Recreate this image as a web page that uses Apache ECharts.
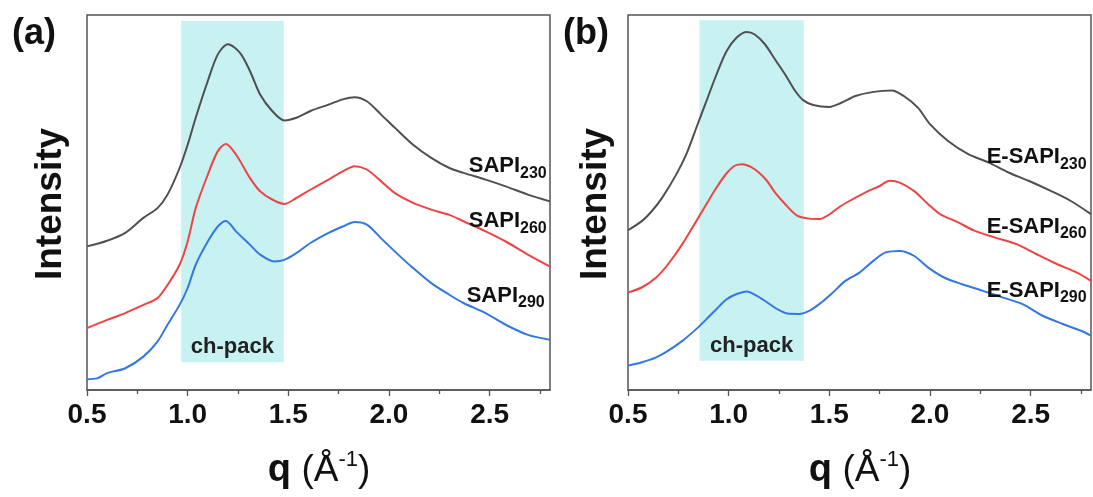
<!DOCTYPE html>
<html>
<head>
<meta charset="utf-8">
<script src="https://cdn.jsdelivr.net/npm/echarts@6/dist/echarts.min.js"></script>
<style>
  html, body { margin: 0; padding: 0; background: #fff; }
  #chart { width: 1093px; height: 497px; }
</style>
</head>
<body>
<div id="chart"></div>
<script>
// tick values (q, 1/Å)
const xTicks = [0.5, 1.0, 1.5, 2.0, 2.5];
const xMinorTicks = [0.75, 1.25, 1.75, 2.25, 2.75];

// panel (a)
const qA230 = [0.50,0.60,0.69,0.78,0.85,0.90,0.96,1.00,1.04,1.10,1.15,1.20,1.26,1.31,1.36,1.42,1.48,1.54,1.61,1.70,1.77,1.83,1.89,1.96,2.03,2.12,2.21,2.30,2.37,2.48,2.58,2.69,2.80];
const iA230 = [38.3,39.8,41.9,45.9,48.5,52.1,59.2,65.4,72.6,82.4,89.5,92.2,89.9,85.0,78.8,74.4,71.9,72.6,74.4,76.1,77.5,78.1,77.0,73.5,69.9,65.4,61.9,59.2,57.9,56.1,54.3,52.1,50.3];
const qA260 = [0.50,0.60,0.69,0.78,0.85,0.90,0.96,1.00,1.04,1.10,1.15,1.19,1.24,1.31,1.36,1.42,1.48,1.54,1.61,1.70,1.77,1.83,1.89,1.96,2.03,2.12,2.21,2.30,2.37,2.48,2.58,2.69,2.80];
const iA260 = [16.5,18.7,20.5,22.7,24.5,28.0,33.4,39.6,48.5,57.4,63.7,65.6,62.8,56.5,53.0,50.8,49.6,51.2,53.4,56.1,58.3,59.7,58.8,55.7,52.5,49.9,48.1,46.7,45.0,42.3,39.6,36.1,32.9];
const qA290 = [0.50,0.55,0.60,0.69,0.78,0.85,0.90,0.96,1.00,1.04,1.10,1.15,1.19,1.24,1.31,1.36,1.43,1.48,1.54,1.61,1.70,1.77,1.83,1.89,1.96,2.03,2.12,2.21,2.30,2.37,2.48,2.58,2.69,2.80];
const iA290 = [2.9,3.1,4.5,5.8,8.9,12.9,17.4,22.7,27.2,33.4,39.6,43.6,45.1,42.3,38.7,36.1,34.3,34.7,36.5,39.2,41.9,43.6,44.8,44.1,40.5,36.9,32.5,28.5,25.4,23.2,20.5,17.4,14.7,13.4];

// panel (b)
const qB230 = [0.50,0.57,0.62,0.67,0.74,0.79,0.84,0.89,0.94,0.99,1.04,1.09,1.13,1.18,1.23,1.28,1.33,1.37,1.42,1.50,1.56,1.63,1.72,1.81,1.87,1.94,2.00,2.09,2.19,2.29,2.39,2.49,2.60,2.70,2.80];
const iB230 = [42.6,45.1,47.8,51.3,57.5,62.9,70.0,77.1,84.2,90.4,94.0,95.5,94.8,92.2,88.2,84.2,79.8,77.3,76.0,75.5,76.6,78.4,79.5,79.9,78.4,75.3,70.9,66.4,62.9,60.7,58.0,55.8,53.1,50.4,46.9];
const qB260 = [0.50,0.57,0.64,0.70,0.77,0.84,0.89,0.94,0.99,1.03,1.07,1.11,1.15,1.19,1.23,1.28,1.34,1.40,1.45,1.50,1.55,1.60,1.68,1.75,1.80,1.85,1.92,1.99,2.05,2.14,2.22,2.32,2.43,2.53,2.63,2.73,2.80];
const iB260 = [26.0,27.4,30.0,33.6,38.9,45.1,49.6,54.0,57.8,59.8,60.2,59.5,58.0,55.8,52.7,49.6,46.5,45.7,45.6,46.8,48.8,50.4,52.7,54.4,55.8,55.3,53.1,49.6,46.9,44.7,42.5,40.7,38.9,36.2,33.6,31.3,29.1];
const qB290 = [0.50,0.57,0.64,0.70,0.77,0.84,0.89,0.94,0.99,1.04,1.09,1.14,1.19,1.24,1.29,1.35,1.40,1.45,1.51,1.58,1.65,1.72,1.78,1.85,1.92,1.99,2.07,2.16,2.26,2.36,2.46,2.56,2.66,2.75,2.80];
const iB290 = [6.5,7.4,8.7,10.5,13.1,16.3,18.9,21.6,24.2,25.6,26.3,25.1,23.4,21.6,20.4,20.3,21.1,22.9,25.6,29.1,31.3,34.5,36.7,37.1,35.8,32.7,30.0,28.2,26.5,24.7,22.9,19.8,17.6,15.8,14.5];

// shaded ch-pack ranges [qStart, qEnd, iLow, iHigh]
const bandA = [0.968, 1.477, 7.4, 98.4];
const bandB = [0.855, 1.373, 7.8, 98.6];

// curve labels: [name, subscript, q, intensity]
const labelsA = [['SAPI', '230', 2.59, 59.7], ['SAPI', '260', 2.59, 45.0], ['SAPI', '290', 2.58, 25.2]];
const labelsB = [['E-SAPI', '230', 2.53, 62.1], ['E-SAPI', '260', 2.53, 43.5], ['E-SAPI', '290', 2.53, 26.5]];

const FONT = '"Liberation Sans", Arial, Helvetica, sans-serif';
const colors = { c230: '#4f4f4f', c260: '#ee4444', c290: '#3377e0' };

const zip = (q, v) => q.map((x, i) => [x, v[i]]);

const chart = echarts.init(document.getElementById('chart'), null, { renderer: 'canvas' });

const grids = [
  { left: 87, top: 15, width: 463, height: 375 },
  { left: 628, top: 15, width: 463, height: 375 }
];

function mainX(gi) {
  return {
    type: 'value', gridIndex: gi, position: 'bottom', min: 0.5, max: 2.8, interval: 0.5,
    axisLine: { show: true, onZero: false, lineStyle: { color: '#555', width: 1.5 } },
    axisTick: { show: true, inside: false, length: 6, customValues: xTicks, lineStyle: { color: '#555', width: 1.3 } },
    axisLabel: {
      show: true, customValues: xTicks, margin: 11, color: '#111', fontSize: 28, fontWeight: 'bold',
      fontFamily: FONT, formatter: v => v.toFixed(1)
    },
    splitLine: { show: false }
  };
}
function minorX(gi) {
  return {
    type: 'value', gridIndex: gi, position: 'bottom', min: 0.5, max: 2.8, interval: 0.25,
    axisLine: { show: false },
    axisTick: { show: true, length: 4, customValues: xMinorTicks, lineStyle: { color: '#555', width: 1.3 } },
    axisLabel: { show: false },
    splitLine: { show: false }
  };
}
function yAx(gi) {
  return {
    type: 'value', gridIndex: gi, min: 0, max: 100,
    axisLine: { show: false }, axisTick: { show: false }, axisLabel: { show: false }, splitLine: { show: false }
  };
}

function curveLabel(l) {
  return {
    coord: [l[2], l[3]],
    label: { formatter: '{m|' + l[0] + '}{s|' + l[1] + '}' }
  };
}

const richLab = {
  m: { fontSize: 22, fontWeight: 'bold', fontFamily: FONT, color: '#111', lineHeight: 23 },
  s: { fontSize: 16, fontWeight: 'bold', fontFamily: FONT, color: '#111', lineHeight: 16, padding: [14, 0, 0, 0] }
};

function line(name, data, color, gi, extra) {
  return Object.assign({
    name: name, type: 'line', xAxisIndex: gi, yAxisIndex: gi, data: data,
    showSymbol: false, smooth: 0.3, silent: true,
    lineStyle: { color: color, width: 2 }, itemStyle: { color: color }
  }, extra || {});
}

function markLabels(list, idx) {
  return {
    symbol: 'circle', symbolSize: 1, silent: true,
    itemStyle: { color: 'rgba(0,0,0,0)' },
    label: { show: true, position: 'inside', rich: richLab },
    data: [curveLabel(list[idx])]
  };
}

function band(b) {
  return {
    silent: true,
    itemStyle: { color: '#c8f1f1' },
    label: {
      show: true, position: 'insideBottom', distance: 4, color: '#222',
      fontSize: 22, fontWeight: 'bold', fontFamily: FONT
    },
    data: [[{ name: 'ch-pack', coord: [b[0], b[2]] }, { coord: [b[1], b[3]] }]]
  };
}

function xTitle(cx) {
  return {
    type: 'text', x: cx, y: 471,
    style: {
      text: '{q|q }{p|(Å}{u|-1}{p|)}',
      align: 'center', verticalAlign: 'middle', fill: '#111',
      rich: {
        q: { fontSize: 38, fontWeight: 'bold', fontFamily: FONT, lineHeight: 44, fill: '#111' },
        p: { fontSize: 37, fontFamily: FONT, lineHeight: 44, fill: '#111' },
        u: { fontSize: 22, fontFamily: FONT, lineHeight: 22, padding: [0, 0, 22, 0], fill: '#111' }
      }
    }
  };
}

const option = {
  animation: false,
  backgroundColor: '#fff',
  grid: grids.map(g => Object.assign({ show: true, borderColor: '#555', borderWidth: 1.5, backgroundColor: 'transparent' }, g)),
  xAxis: [mainX(0), mainX(1), minorX(0), minorX(1)],
  yAxis: [yAx(0), yAx(1)],
  series: [
    line('SAPI230', zip(qA230, iA230), colors.c230, 0, { markArea: band(bandA), markPoint: markLabels(labelsA, 0) }),
    line('SAPI260', zip(qA260, iA260), colors.c260, 0, { markPoint: markLabels(labelsA, 1) }),
    line('SAPI290', zip(qA290, iA290), colors.c290, 0, { markPoint: markLabels(labelsA, 2) }),
    line('E-SAPI230', zip(qB230, iB230), colors.c230, 1, { markArea: band(bandB), markPoint: markLabels(labelsB, 0) }),
    line('E-SAPI260', zip(qB260, iB260), colors.c260, 1, { markPoint: markLabels(labelsB, 1) }),
    line('E-SAPI290', zip(qB290, iB290), colors.c290, 1, { markPoint: markLabels(labelsB, 2) })
  ],
  graphic: [
    { type: 'text', x: 34, y: 34, style: { text: '(a)', font: 'bold 36px ' + FONT, fill: '#111', align: 'center', verticalAlign: 'middle' } },
    { type: 'text', x: 586, y: 34, style: { text: '(b)', font: 'bold 36px ' + FONT, fill: '#111', align: 'center', verticalAlign: 'middle' } },
    { type: 'text', x: 51, y: 204, rotation: Math.PI / 2, style: { text: 'Intensity', font: 'bold 37px ' + FONT, fill: '#111', align: 'center', verticalAlign: 'middle' } },
    { type: 'text', x: 596, y: 204, rotation: Math.PI / 2, style: { text: 'Intensity', font: 'bold 37px ' + FONT, fill: '#111', align: 'center', verticalAlign: 'middle' } },
    xTitle(319),
    xTitle(860)
  ]
};

chart.setOption(option);
</script>
</body>
</html>
